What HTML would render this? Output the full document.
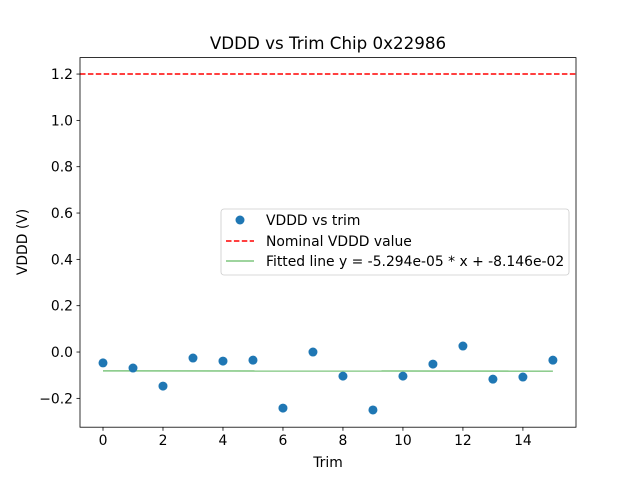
<!DOCTYPE html>
<html><head><meta charset="utf-8"><style>body{margin:0;background:#fff}svg{display:block;font-family:"DejaVu Sans","Liberation Sans",sans-serif}</style></head>
<body>
<svg id="chart" width="640" height="480"></svg>
<script>
const trims=[0,1,2,3,4,5,6,7,8,9,10,11,12,13,14,15];
const vddd=[-0.047,-0.069,-0.147,-0.026,-0.039,-0.035,-0.242,0.0,-0.104,-0.250,-0.104,-0.052,0.026,-0.117,-0.108,-0.035];
const slope=-5.294e-05, intercept=-8.146e-02;
const nominal=1.2;
const xTicks=[0,2,4,6,8,10,12,14];
const yTicks=[-0.2,0.0,0.2,0.4,0.6,0.8,1.0,1.2];
const L=80,R=576,T=57.6,B=427.2;
const xMin=-0.767,xMax=15.77,yMin=-0.3245,yMax=1.271;
const X=v=>L+(v-xMin)/(xMax-xMin)*(R-L);
const Y=v=>B-(v-yMin)/(yMax-yMin)*(B-T);
const svg=document.getElementById('chart');const NS='http://www.w3.org/2000/svg';
function mk(t,a,txt){const e=document.createElementNS(NS,t);for(const k in a)e.setAttribute(k,a[k]);if(txt!==undefined)e.textContent=txt;svg.appendChild(e);return e;}
let e;
e=mk('line',{x1:L,x2:R,y1:Y(nominal),y2:Y(nominal),stroke:'#ff0000','stroke-width':1.5,'stroke-dasharray':'5.5,2.4'});


e=mk('line',{x1:X(trims[0]),x2:X(trims[trims.length-1]),y1:Y(slope*trims[0]+intercept),y2:Y(slope*trims[trims.length-1]+intercept),stroke:'#7fc67f','stroke-width':1.5});


trims.forEach((t,i)=>{const c=mk('circle',{cx:X(t),cy:Y(vddd[i]),r:4.5,fill:'#1f77b4'});

});
e=mk('rect',{x:L,y:T,width:R-L,height:B-T,fill:'none',stroke:'#000','stroke-width':0.8});


xTicks.forEach(t=>{mk('line',{x1:X(t),x2:X(t),y1:B,y2:B+3.5,stroke:'#000','stroke-width':0.8});
const l=mk('text',{x:X(t),y:B+18,'font-size':13.9,'text-anchor':'middle'},String(t));

});
yTicks.forEach(t=>{mk('line',{x1:L-3.5,x2:L,y1:Y(t),y2:Y(t),stroke:'#000','stroke-width':0.8});
const l=mk('text',{x:L-7,y:Y(t)+5,'font-size':13.9,'text-anchor':'end'},(t<0?'\u2212':'')+Math.abs(t).toFixed(1));

});
e=mk('text',{x:328,y:49,'font-size':16.7,'text-anchor':'middle'},'VDDD vs Trim Chip 0x22986');


e=mk('text',{x:328,y:467,'font-size':13.9,'text-anchor':'middle'},'Trim');


e=mk('text',{x:0,y:0,'font-size':13.9,'text-anchor':'middle',transform:'translate(27,242) rotate(-90)'},'VDDD (V)');


e=mk('rect',{x:221,y:209,width:348,height:66,rx:3,fill:'#fff','fill-opacity':0.8,stroke:'#ccc','stroke-width':0.8});


mk('circle',{cx:240,cy:220,r:4.5,fill:'#1f77b4'});
e=mk('text',{x:266,y:225,'font-size':13.9},'VDDD vs trim');


mk('line',{x1:226,x2:254,y1:241,y2:241,stroke:'#ff0000','stroke-width':1.5,'stroke-dasharray':'5.5,2.4'});
e=mk('text',{x:266,y:246,'font-size':13.9},'Nominal VDDD value');


mk('line',{x1:226,x2:254,y1:261,y2:261,stroke:'#7fc67f','stroke-width':1.5});
e=mk('text',{x:266,y:266,'font-size':13.9},'Fitted line y = -5.294e-05 * x + -8.146e-02');


</script>
</body></html>
